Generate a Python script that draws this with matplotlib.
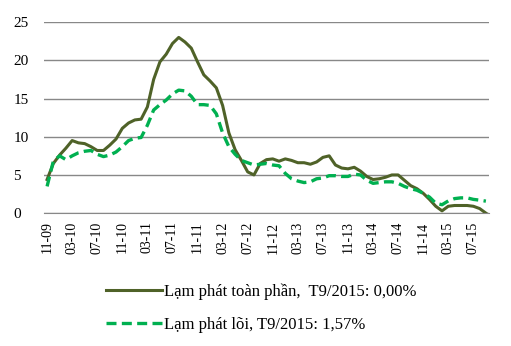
import numpy as np
import matplotlib.pyplot as plt

plt.rcParams['font.family'] = ['Liberation Serif', 'DejaVu Serif']

# monthly, Nov 2009 .. Sep 2015
headline = [4.4, 6.5,
            7.6, 8.5, 9.5, 9.2, 9.1, 8.7, 8.2, 8.2, 8.9, 9.7, 11.1, 11.8,
            12.2, 12.3, 13.9, 17.5, 19.8, 20.8, 22.2, 23.0, 22.4, 21.6, 19.8, 18.1,
            17.3, 16.4, 14.1, 10.5, 8.3, 6.9, 5.4, 5.0, 6.5, 7.0, 7.1, 6.8,
            7.1, 6.9, 6.6, 6.6, 6.4, 6.7, 7.3, 7.5, 6.3, 5.9, 5.8, 6.0,
            5.5, 4.8, 4.4, 4.5, 4.7, 5.0, 5.0, 4.3, 3.6, 3.2, 2.6, 1.8,
            0.9, 0.3, 0.9, 1.0, 1.0, 1.0, 0.9, 0.6, 0.0]
core = [3.5, 6.8,
        7.5, 7.0, 7.5, 7.9, 8.1, 8.2, 7.7, 7.4, 7.6, 8.0, 8.7, 9.5,
        9.8, 9.9, 11.5, 13.5, 14.2, 14.8, 15.6, 16.1, 16.0, 15.3, 14.2, 14.2,
        14.1, 13.0, 10.5, 8.7, 7.7, 6.9, 6.6, 6.3, 6.4, 6.5, 6.3, 6.2,
        5.2, 4.5, 4.2, 4.0, 4.1, 4.5, 4.6, 4.9, 4.9, 4.8, 4.8, 5.1,
        5.0, 4.3, 3.9, 4.0, 4.1, 4.1, 3.9, 3.5, 3.2, 3.0, 2.6, 2.1,
        1.3, 1.1, 1.6, 1.9, 2.0, 2.0, 1.8, 1.7, 1.57]
months = []
for i in range(len(headline)):
    m = (10 + i) % 12 + 1
    y = (2009 * 12 + 10 + i) // 12 % 100
    months.append('%02d-%02d' % (m, y))

x = np.arange(len(headline))

fig = plt.figure(figsize=(5.11, 3.46), dpi=100)
ax = fig.add_axes([0.086, 0.384, 0.871, 0.552])

ax.plot(x, headline, color='#4F6228', lw=2.2,
        label='Lạm phát toàn phần,  T9/2015: 0,00%')
ax.plot(x, core, color='#00B050', lw=2.4, ls=(0, (3, 1.6)),
        label='Lạm phát lõi, T9/2015: 1,57%')

ax.set_xlim(-0.5, len(x) - 0.5)
ax.set_ylim(0, 25)
ax.set_yticks(range(0, 26, 5))
ax.set_xticks(x[::4])
ax.set_xticklabels(months[::4], rotation=90, fontsize=10)
ax.tick_params(axis='y', labelsize=11, length=0, pad=22)
ax.tick_params(axis='x', length=0, pad=6)
for lbl in ax.get_yticklabels():
    lbl.set_horizontalalignment('left')
ax.grid(axis='y', color='#888888', lw=1)
for s in ['top', 'right', 'left']:
    ax.spines[s].set_visible(False)
ax.spines['bottom'].set_color('#888888')
ax.set_axisbelow(True)

ax.legend(loc='upper left', bbox_to_anchor=(0.124, -0.335), frameon=False,
          fontsize=12, handlelength=3.4, handletextpad=0.1,
          labelspacing=1.0, borderaxespad=0)

fig.savefig('out.png', dpi=100)
